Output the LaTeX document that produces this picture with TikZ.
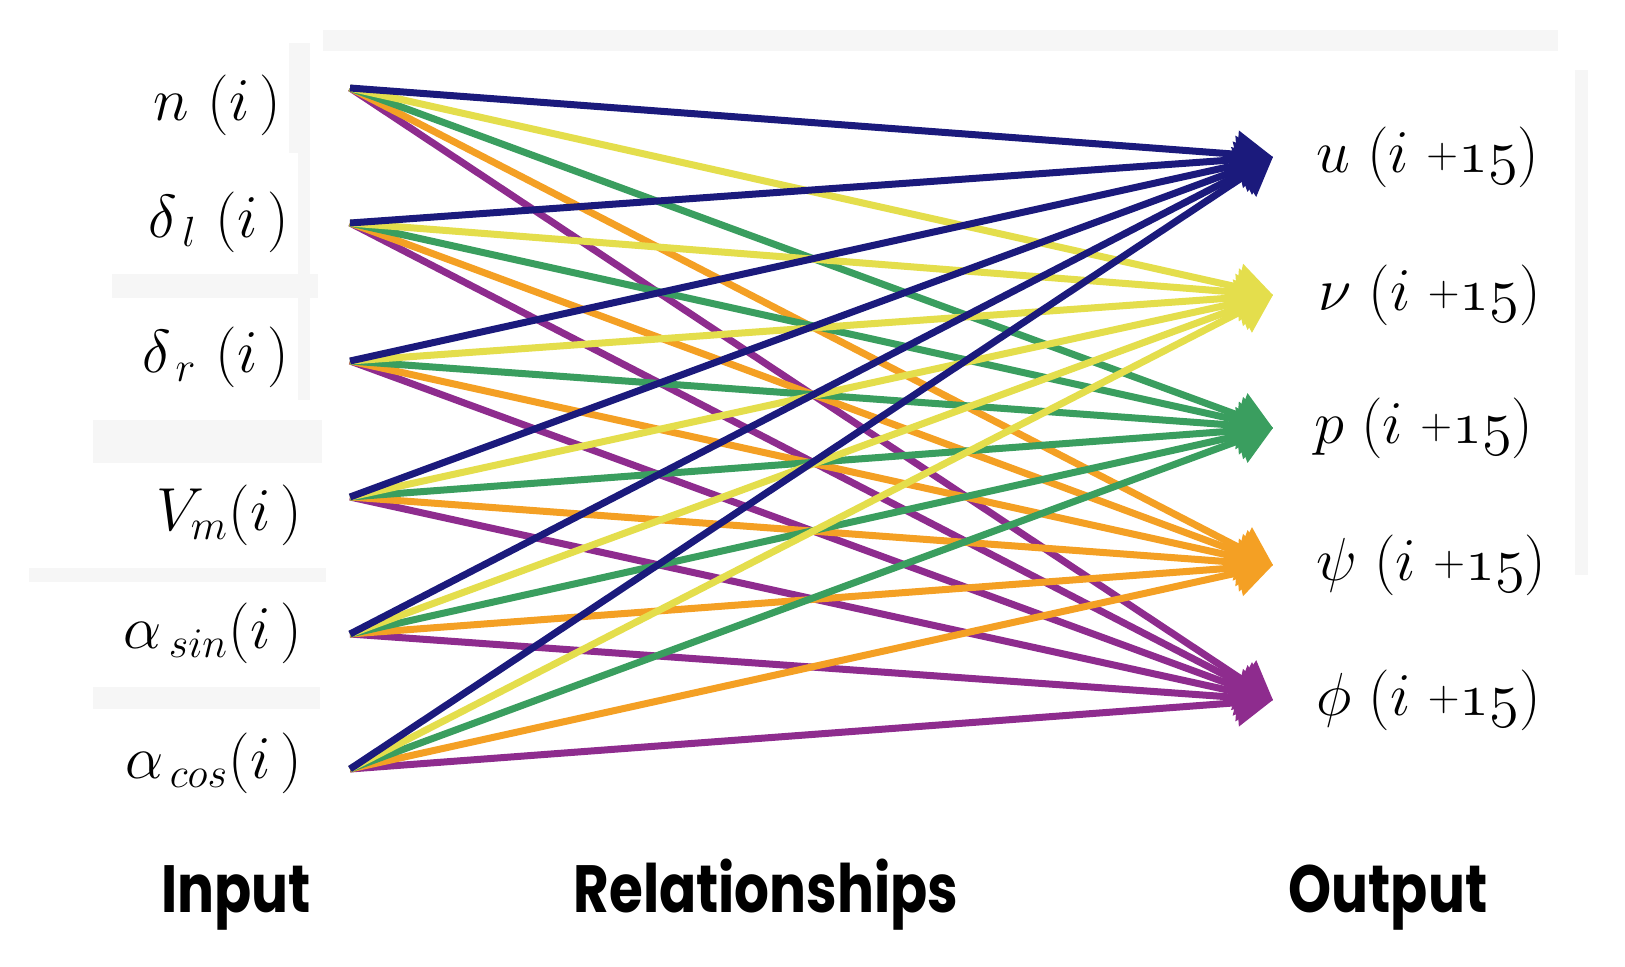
\documentclass[tikz,border=0pt]{standalone}
\usepackage{fontspec}
\usetikzlibrary{arrows.meta}
\newfontfamily\lblfont{Poppins}
\definecolor{cnavy}{HTML}{1B1A7C}
\definecolor{cyell}{HTML}{E4DE4C}
\definecolor{cgreen}{HTML}{3A9E5F}
\definecolor{corange}{HTML}{F4A024}
\definecolor{cpurple}{HTML}{8E2C8E}
\definecolor{barg}{HTML}{F6F6F6}
\newcommand{\smplus}{\mathord{\raisebox{0.07em}{$\scriptstyle+$}}}
\tikzset{
  conn/.style={line width=0.07cm, -{Triangle[length=0.36cm,width=0.46cm]}},
  inlbl/.style={font=\fontsize{17.5}{20}\selectfont, inner sep=0pt, anchor=base east},
  outlbl/.style={font=\fontsize{17.5}{20}\selectfont, inner sep=0pt, anchor=base west},
  axlbl/.style={font=\lblfont\bfseries\fontsize{19}{22}\selectfont, inner sep=0pt, anchor=base west},
  bar/.style={fill=barg, draw=none},
}
\begin{document}
\begin{tikzpicture}[x=0.01cm,y=-0.01cm]
\fill[white] (0,0) rectangle (1625,966);
\useasboundingbox (0,0) rectangle (1625,966);
% faint background bars
\fill[bar] (323,30) rectangle (1558,51);
\fill[bar] (289,43) rectangle (310,153);
\fill[bar] (298,153) rectangle (310,400);
\fill[bar] (112,274) rectangle (318,298);
\fill[bar] (93,420) rectangle (322,463);
\fill[bar] (29,568) rectangle (326,582);
\fill[bar] (93,687) rectangle (320,709);
\fill[bar] (1575,70) rectangle (1588,575);
% sources and targets
\coordinate (s1) at (350,88);
\coordinate (s2) at (350,223);
\coordinate (s3) at (350,361);
\coordinate (s4) at (350,497);
\coordinate (s5) at (350,634);
\coordinate (s6) at (350,769);
\coordinate (t1) at (1273,157);
\coordinate (t2) at (1273,295);
\coordinate (t3) at (1273,428);
\coordinate (t4) at (1273,565);
\coordinate (t5) at (1273,700);
% connectors
\foreach \s in {1,...,6} \draw[conn,cpurple] (s\s) -- (t5);
\foreach \s in {1,...,6} \draw[conn,corange] (s\s) -- (t4);
\foreach \s in {1,...,6} \draw[conn,cgreen] (s\s) -- (t3);
\foreach \s in {1,...,6} \draw[conn,cyell] (s\s) -- (t2);
\foreach \s in {1,...,6} \draw[conn,cnavy] (s\s) -- (t1);
% input labels
\node[inlbl] (in1) at (282,120) {$n\ (i\,)$};
\node[inlbl] (in2) at (290,237) {$\delta_{\,l}\ (i\,)$};
\node[inlbl] (in3) at (290,372) {$\delta_{\,r}\ (i\,)$};
\node[inlbl] (in4) at (303,530) {$V_{m}(i\,)$};
\node[inlbl] (in5) at (303,648) {$\alpha_{\,sin}(i\,)$};
\node[inlbl] (in6) at (303,778) {$\alpha_{\,cos}(i\,)$};
% output labels
\node[outlbl] (out1) at (1316,172) {$u\;(i\;\smplus\mathnormal{15})$};
\node[outlbl] (out2) at (1318,310) {$\nu\;(i\;\smplus\mathnormal{15})$};
\node[outlbl] (out3) at (1314,443) {$p\;(i\;\smplus\mathnormal{15})$};
\node[outlbl] (out4) at (1316,580) {$\psi\;(i\;\smplus\mathnormal{15})$};
\node[outlbl] (out5) at (1316,715) {$\phi\;(i\;\smplus\mathnormal{15})$};
% axis labels
\node[axlbl] (lin) at (161,912) {\scalebox{0.82}[1]{Input}};
\node[axlbl] (lrel) at (573,912) {\scalebox{0.82}[1]{Relationships}};
\node[axlbl] (lout) at (1288,912) {\scalebox{0.82}[1]{Output}};
\end{tikzpicture}
\end{document}
